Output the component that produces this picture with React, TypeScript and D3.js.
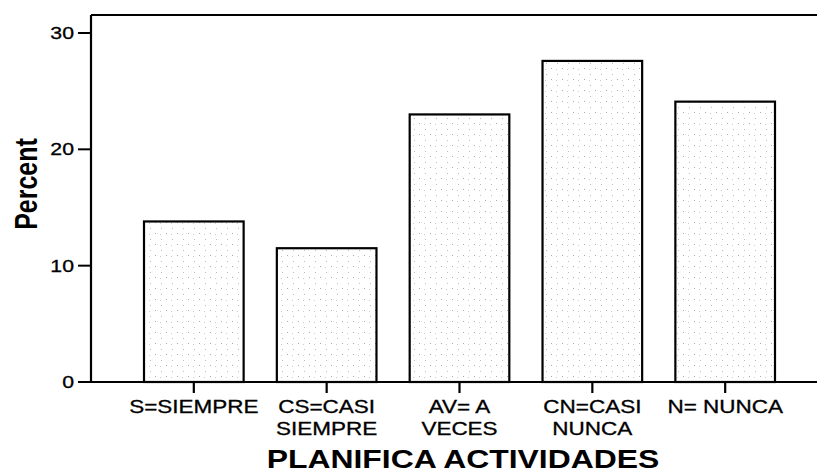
import React from "react";
import * as d3 from "d3";

const categories = ["S=SIEMPRE", "CS=CASI SIEMPRE", "AV= A VECES", "CN=CASI NUNCA", "N= NUNCA"];
const labelLines = [["S=SIEMPRE"], ["CS=CASI", "SIEMPRE"], ["AV= A", "VECES"], ["CN=CASI", "NUNCA"], ["N= NUNCA"]];
const percents = [13.8, 11.5, 23.0, 27.6, 24.1];
const yTicks = [0, 10, 20, 30];
const xTitle = "PLANIFICA ACTIVIDADES";
const yTitle = "Percent";

const W = 817;
const H = 472;
const FONT = "'Liberation Sans', Arial, Helvetica, sans-serif";
const SX = 1.25;

export default function App() {
  const axisLeft = 91;
  const plotTop = 15;
  const baseY = 382;
  const x = d3
    .scaleBand<string>()
    .domain(categories)
    .range([127.4, 791.6])
    .paddingInner(0.25)
    .paddingOuter(0.125);
  const y = d3.scaleLinear().domain([0, 30]).range([baseY, 33]);

  return (
    <svg
      width={W}
      height={H}
      style={{ position: "absolute", left: 0, top: 0, display: "block", background: "#fff" }}
    >
      <defs>
        <pattern id="dots" width="11" height="11" patternUnits="userSpaceOnUse">
          <rect width="11" height="11" fill="#fff" />
          <rect x="1" y="2" width="1" height="1" fill="#aaa" />
          <rect x="7" y="8" width="1" height="1" fill="#bbb" />
          <rect x="6" y="3" width="1" height="1" fill="#ccc" />
        </pattern>
      </defs>

      {/* bars */}
      {categories.map((c, i) => (
        <rect
          key={c}
          x={x(c)!}
          y={y(percents[i])}
          width={x.bandwidth()}
          height={baseY - y(percents[i])}
          fill="url(#dots)"
          stroke="#000"
          strokeWidth={2.2}
        />
      ))}

      {/* frame lines */}
      <line x1={axisLeft} x2={W} y1={plotTop} y2={plotTop} stroke="#000" strokeWidth={2.2} />
      <line x1={axisLeft} x2={axisLeft} y1={plotTop} y2={baseY} stroke="#000" strokeWidth={2.2} />
      <line x1={axisLeft} x2={W} y1={baseY} y2={baseY} stroke="#000" strokeWidth={2.2} />

      {/* y ticks */}
      {yTicks.map((t) => (
        <g key={t}>
          <line x1={axisLeft - 13} x2={axisLeft} y1={y(t)} y2={y(t)} stroke="#000" strokeWidth={2} />
          <text
            transform={`translate(${axisLeft - 17},${y(t)}) scale(${SX},1)`}
            textAnchor="end"
            dy="0.36em"
            fontFamily={FONT}
            fontSize={17}
            fill="#000"
            stroke="#000"
            strokeWidth={0.3}
          >
            {t}
          </text>
        </g>
      ))}

      {/* x ticks and labels */}
      {categories.map((c, i) => {
        const cx = x(c)! + x.bandwidth() / 2;
        return (
          <g key={c}>
            <line x1={cx} x2={cx} y1={baseY} y2={baseY + 11} stroke="#000" strokeWidth={2.2} />
            {labelLines[i].map((ln, j) => (
              <text
                key={j}
                transform={`translate(${cx},${413 + j * 22}) scale(${SX},1)`}
                textAnchor="middle"
                fontFamily={FONT}
                fontSize={18}
                fill="#000"
                stroke="#000"
                strokeWidth={0.3}
              >
                {ln}
              </text>
            ))}
          </g>
        );
      })}

      {/* axis titles */}
      <text
        transform={`translate(463,468) scale(${SX},1)`}
        textAnchor="middle"
        fontFamily={FONT}
        fontWeight="bold"
        fontSize={25.5}
        fill="#000"
      >
        {xTitle}
      </text>
      <text
        transform={`translate(37,184) scale(${SX},1) rotate(-90)`}
        textAnchor="middle"
        fontFamily={FONT}
        fontWeight="bold"
        fontSize={25}
        fill="#000"
      >
        {yTitle}
      </text>
    </svg>
  );
}
